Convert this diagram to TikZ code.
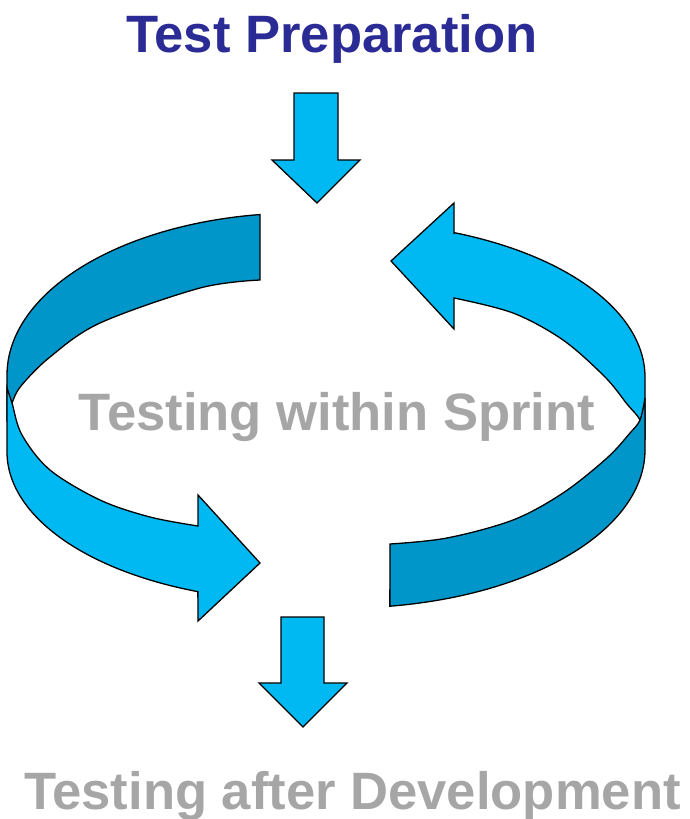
\documentclass[tikz,border=0pt]{standalone}
\usepackage{fontspec}
\setmainfont{Liberation Sans}
\definecolor{lightband}{HTML}{00B9F2}
\definecolor{darkband}{HTML}{0096CA}
\definecolor{titleblue}{HTML}{2B2B96}
\definecolor{labelgray}{HTML}{A6A6A6}
\tikzset{
  lightshape/.style={fill=lightband, draw=black, line width=1.3pt},
  darkshape/.style={fill=darkband, draw=black, line width=1.3pt},
  bigtext/.style={font=\fontsize{52.6}{60}\selectfont\bfseries, inner sep=0pt, anchor=base},
}
\begin{document}
\begin{tikzpicture}[x=1pt, y=-1pt]
\useasboundingbox (0,0) rectangle (689,819);

% titles
\node[bigtext, text=titleblue] (prep) at (332,52) {Test Preparation};
\node[bigtext, text=labelgray] (sprint) at (337,430) {Testing within Sprint};
\node[bigtext, text=labelgray] (after) at (352.5,809) {Testing after Development};

% straight down arrows
\draw[lightshape] (294,93) -- (338,93) -- (338,160) -- (360,160) -- (317,203) -- (272,160) -- (294,160) -- cycle;
\draw[lightshape] (281,617) -- (324,617) -- (324,683) -- (347,683) -- (303,727) -- (259,683) -- (281,683) -- cycle;

% left circular arrow: dark back part
\draw[darkshape] (260,215)
  -- plot[domain=97.85:180, samples=50] ({300+293*cos(\x)}, {375-162*sin(\x)})
  -- (7,418)
  -- plot[smooth, tension=0.55] coordinates {(7,418) (12,403) (21,386) (50,357) (100,323) (200,288) (260,280)}
  -- cycle;
% left circular arrow: light front part with head
\draw[lightshape] (7,388) -- (7,452)
  -- plot[domain=180:249.6, samples=50] ({300+293*cos(\x)}, {452-149*sin(\x)})
  -- (198,621) -- (260,563) -- (198,495) -- (198,526)
  -- plot[smooth, tension=0.55] coordinates {(198,526) (150,517) (100,500) (50,470) (22,435) (12,403) (7,388)}
  -- cycle;

% right circular arrow: light part with head
\draw[lightshape] (391,261) -- (454,203) -- (454,234)
  -- plot[domain=68.7:0, samples=50] ({345+300*cos(\x)}, {377-155*sin(\x)})
  -- (645,440)
  -- plot[smooth, tension=0.55] coordinates {(645,440) (640,420) (627,404) (605,377) (563,340) (513,313) (454,298)}
  -- (454,329) -- cycle;
% right circular arrow: dark part
\draw[darkshape] (645,398) -- (645,450)
  -- plot[domain=0:-81.4, samples=50] ({345+300*cos(\x)}, {450-158*sin(\x)})
  -- (390,544)
  -- plot[smooth, tension=0.55] coordinates {(390,544) (447,538) (513,520) (563,493) (607,458) (630,433) (640,420) (645,398)}
  -- cycle;
\end{tikzpicture}
\end{document}
